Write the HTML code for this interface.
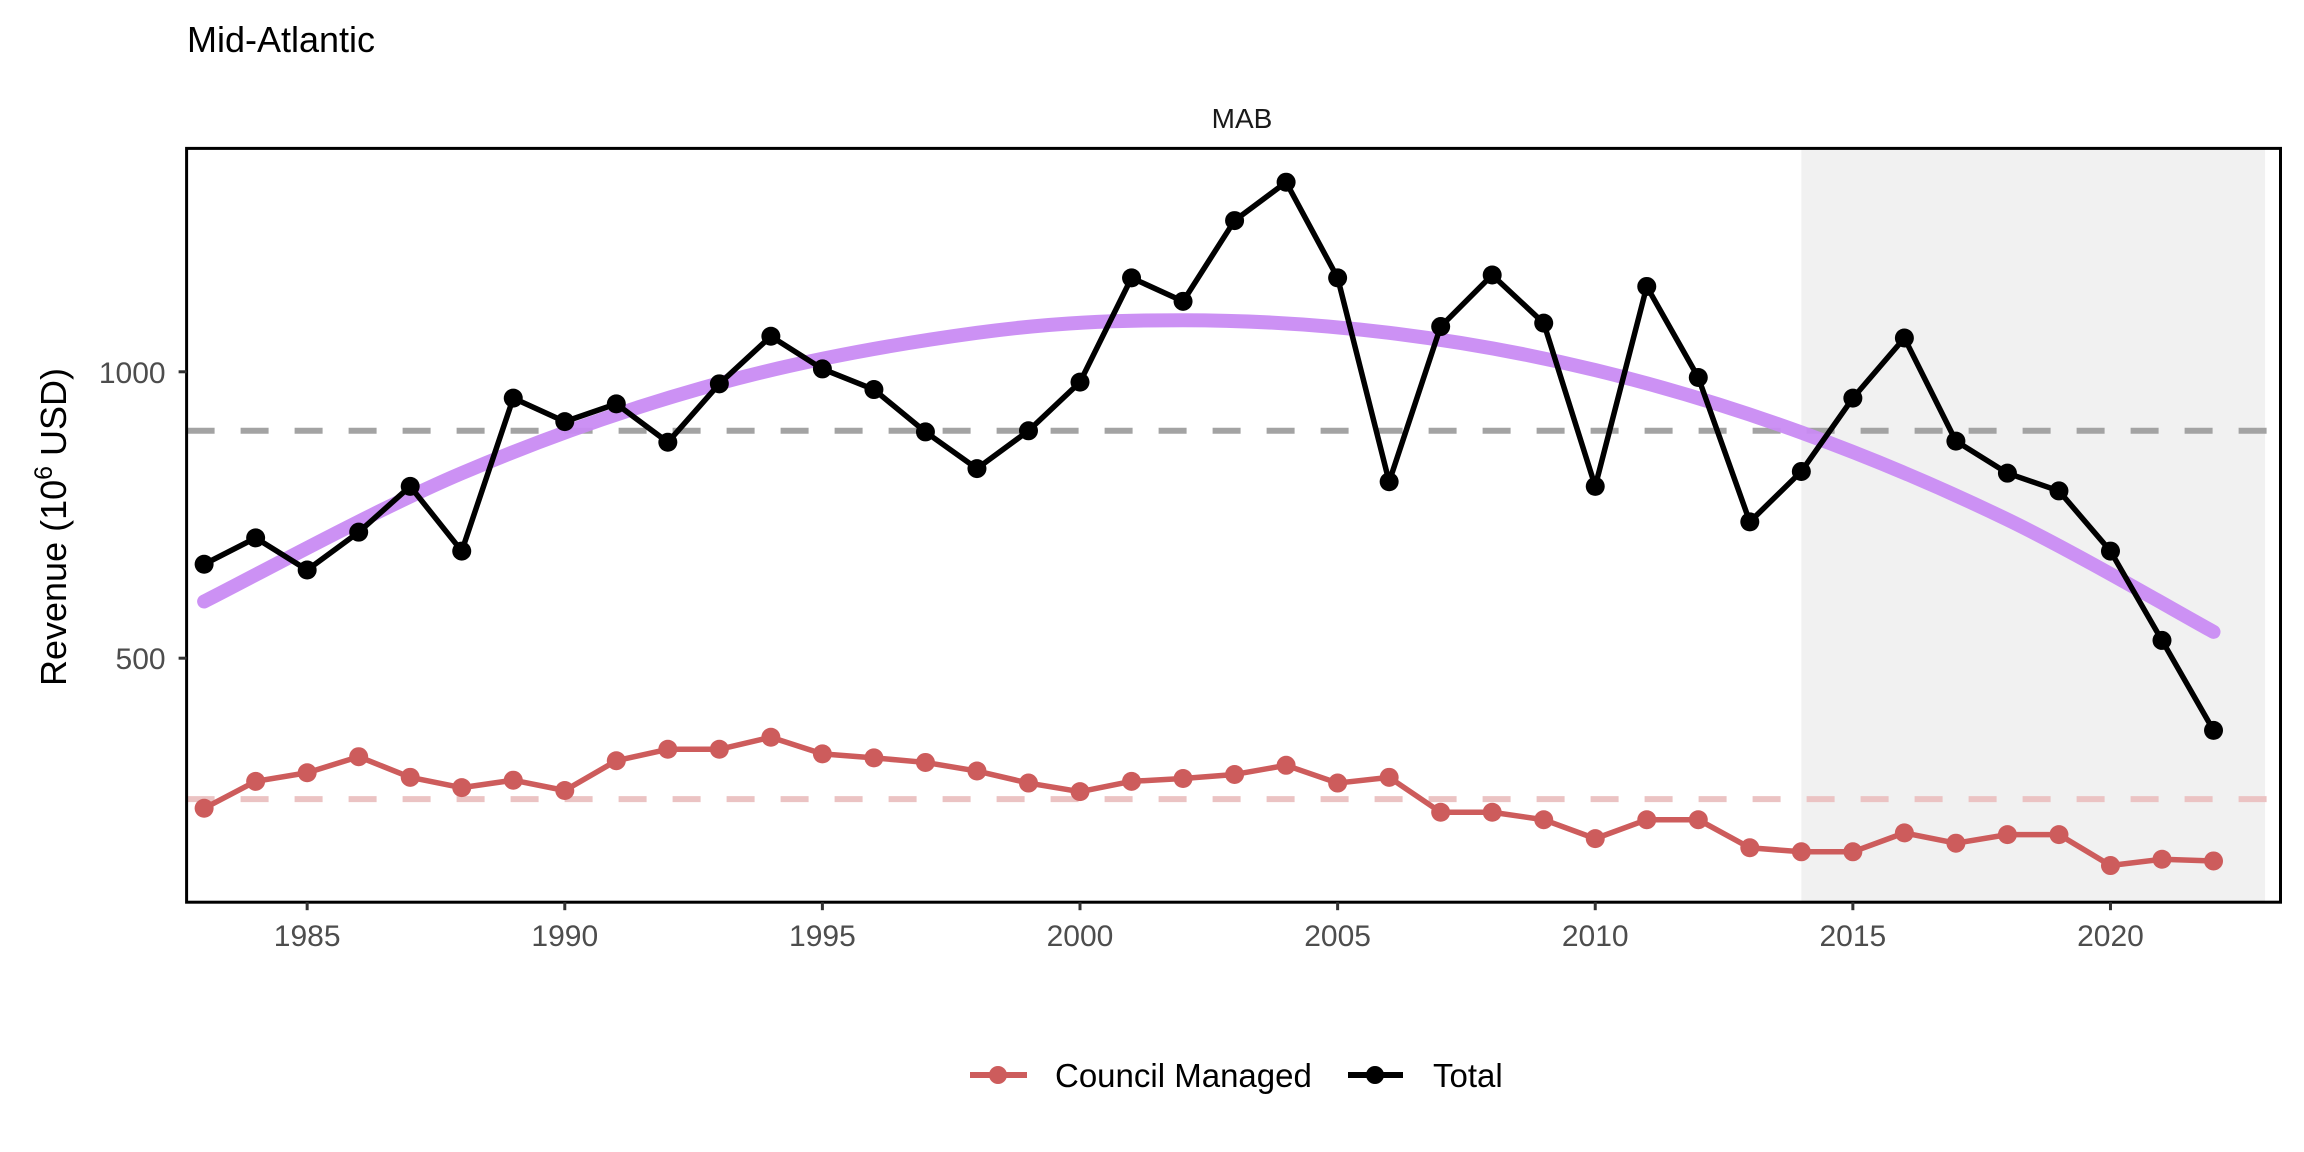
<!DOCTYPE html>
<html><head><meta charset="utf-8">
<style>
html,body{margin:0;padding:0;background:#fff;}
svg{display:block;font-family:"Liberation Sans",Arial,sans-serif;}
</style></head>
<body>
<svg id="chart" width="2304" height="1152" viewBox="0 0 2304 1152">
<text x="187" y="52" font-size="36" fill="#000">Mid-Atlantic</text>
<text x="1242" y="128" font-size="28" fill="#1a1a1a" text-anchor="middle">MAB</text>
<g id="plot"></g>
<text transform="translate(66,527) rotate(-90)" font-size="36" text-anchor="middle" fill="#000">Revenue (10<tspan dy="-14" font-size="25">6</tspan><tspan dy="14"> USD)</tspan></text>
<g>
  <g>
    <line x1="970" y1="1075" x2="1027" y2="1075" stroke="#cd5c5c" stroke-width="6"/>
    <circle cx="998" cy="1075" r="9" fill="#cd5c5c"/>
    <text x="1055" y="1087" font-size="33" fill="#000">Council Managed</text>
  </g>
  <g>
    <line x1="1348" y1="1075" x2="1403" y2="1075" stroke="#000" stroke-width="6"/>
    <circle cx="1375" cy="1075" r="9" fill="#000"/>
    <text x="1433" y="1087" font-size="33" fill="#000">Total</text>
  </g>
</g>
</svg>
<script>
const years = [1983,1984,1985,1986,1987,1988,1989,1990,1991,1992,1993,1994,1995,1996,1997,1998,1999,2000,2001,2002,2003,2004,2005,2006,2007,2008,2009,2010,2011,2012,2013,2014,2015,2016,2017,2018,2019,2020,2021,2022];
const totalValues = [664,710,654,720,800,687,954,913,944,877,979,1062,1005,969,895,831,897,982,1164,1123,1264,1331,1164,808,1079,1169,1085,800,1149,990,738,826,954,1059,879,823,792,687,531,374];
const councilValues = [238,285,300,328,292,274,287,269,321,341,341,362,333,326,318,303,282,267,285,290,297,313,282,292,231,231,218,185,218,218,169,162,162,195,177,192,192,138,149,146];
const trendYears = [1983,1988,1993,1998,2002,2006,2010,2014,2018,2022];
const trendValues = [599,823,980,1068,1090,1068,1003,894,742,546];
const totalMean = [897];
const councilMean = [254];
const xTicks = [1985,1990,1995,2000,2005,2010,2015,2020];
const yTicks = [500,1000];
const shadeRange = [2014,2023];

const NS = "http://www.w3.org/2000/svg";
const L=186.6,R=2280.5,T=148.4,B=902.2;
const xMin=1982.66,xMax=2023.3,yMin=74,yMax=1390;
const xs = v => L + (v-xMin)/(xMax-xMin)*(R-L);
const ys = v => B - (v-yMin)/(yMax-yMin)*(B-T);
const g = document.getElementById('plot');
const svg = document.getElementById('chart');
function mk(tag, attrs, parent){const e=document.createElementNS(NS,tag);for(const k in attrs)e.setAttribute(k,attrs[k]);(parent||g).appendChild(e);return e;}

const shade = mk('rect',{x:xs(shadeRange[0]),y:T,width:xs(shadeRange[1])-xs(shadeRange[0]),height:B-T,fill:'#f1f1f1'});



const gm = mk('line',{x1:L,x2:R,y1:ys(totalMean[0]),y2:ys(totalMean[0]),stroke:'#a3a3a3','stroke-width':6,'stroke-dasharray':'28 26'});


const cm = mk('line',{x1:L,x2:R,y1:ys(councilMean[0]),y2:ys(councilMean[0]),stroke:'#ebc3c3','stroke-width':6,'stroke-dasharray':'28 26'});



const tp = trendYears.map((y,i)=>[xs(y),ys(trendValues[i])]);
let d = `M${tp[0][0]},${tp[0][1]}`;
for(let i=0;i<tp.length-1;i++){
  const p0=tp[Math.max(i-1,0)],p1=tp[i],p2=tp[i+1],p3=tp[Math.min(i+2,tp.length-1)];
  d+=` C${p1[0]+(p2[0]-p0[0])/6},${p1[1]+(p2[1]-p0[1])/6} ${p2[0]-(p3[0]-p1[0])/6},${p2[1]-(p3[1]-p1[1])/6} ${p2[0]},${p2[1]}`;
}
const trend = mk('path',{d:d,fill:'none',stroke:'#c98bf3','stroke-width':14,'stroke-linecap':'round','stroke-opacity':0.95});



function series(vals,color,name){
  const pl = mk('polyline',{points:years.map((y,i)=>xs(y)+','+ys(vals[i])).join(' '),fill:'none',stroke:color,'stroke-width':5.5,'stroke-linejoin':'round'});
  
  
  years.forEach((y,i)=>{
    const c = mk('circle',{cx:xs(y),cy:ys(vals[i]),r:9.5,fill:color});
    
    
  });
}
series(councilValues,'#cd5c5c','council');
series(totalValues,'#000000','total');

const frame = mk('rect',{x:L,y:T,width:R-L,height:B-T,fill:'none',stroke:'#000','stroke-width':3});



xTicks.forEach(t=>{
  const tk = mk('line',{x1:xs(t),x2:xs(t),y1:B,y2:B+8,stroke:'#333','stroke-width':3},svg);
  
  
  const tx = mk('text',{x:xs(t),y:B+44,'font-size':30,fill:'#4d4d4d','text-anchor':'middle'},svg);
  tx.textContent = t;
  
  
});
yTicks.forEach(t=>{
  const tk = mk('line',{x1:L-8,x2:L,y1:ys(t),y2:ys(t),stroke:'#333','stroke-width':3},svg);
  
  
  const tx = mk('text',{x:L-21,y:ys(t)+11,'font-size':30,fill:'#4d4d4d','text-anchor':'end'},svg);
  tx.textContent = t;
  
  
});
</script>
</body></html>
